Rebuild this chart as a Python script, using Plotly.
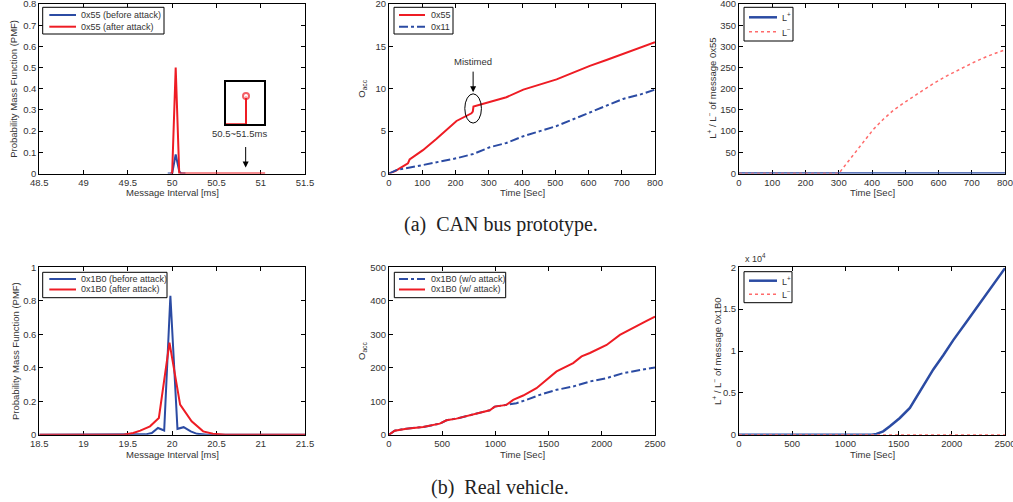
import plotly.graph_objects as go

W, H = 1013, 502

# ---------------- data ----------------
# (a) CAN bus prototype: PMF of message interval for 0x55
can_x_before = [49.95, 50.0, 50.04, 50.08, 50.1, 50.15]
can_pmf_before = [0, 0, 0.09, 0.01, 0, 0]
can_x_after = [49.98, 50.0, 50.04, 50.08, 50.1, 51.05]
can_pmf_after = [0, 0, 0.5, 0, 0, 0]
# inset (50.5~51.5 ms)
inset_x = [50.5, 51.03, 51.03]
inset_pmf = [0, 0, 0.0004]

# (a) O_acc over time
t_55 = [0, 20, 32, 57, 62, 102, 143, 153, 183, 203, 248, 252, 254, 303, 353, 404, 454, 504, 554, 604, 654, 704, 754, 800]
oacc_55 = [0, 0.3, 0.6, 1.2, 1.65, 2.75, 4.1, 4.45, 5.5, 6.2, 7.1, 7.3, 7.9, 8.45, 9.0, 9.9, 10.5, 11.1, 11.9, 12.7, 13.4, 14.1, 14.8, 15.5]
t_11 = [0, 22, 102, 203, 253, 303, 353, 404, 454, 504, 554, 604, 654, 704, 754, 800]
oacc_11 = [0, 0.4, 1.0, 1.8, 2.3, 3.1, 3.6, 4.4, 5.0, 5.6, 6.4, 7.2, 8.0, 8.8, 9.3, 9.9]

# (a) L+ / L- of 0x55
t_lp_a = [0, 800]
lplus_a = [0, 0]
t_lm_a = [0, 300, 323, 343, 373, 404, 434, 464, 504, 544, 584, 624, 665, 705, 745, 800]
lminus_a = [0, 0, 23, 43, 74, 104, 128, 149, 171, 192, 212, 230, 247, 262, 276, 292]

# (b) Real vehicle: PMF of message interval for 0x1B0
veh_x_before = [18.5, 19.6, 19.7, 19.77, 19.84, 19.91, 19.98, 20.06, 20.13, 20.21, 20.28, 20.4, 21.5]
veh_pmf_before = [0, 0, 0.002, 0.01, 0.04, 0.025, 0.83, 0.035, 0.045, 0.02, 0.005, 0, 0]
veh_x_after = [18.5, 19.45, 19.56, 19.64, 19.75, 19.85, 19.97, 20.09, 20.22, 20.35, 20.46, 20.6, 21.5]
veh_pmf_after = [0, 0, 0.01, 0.024, 0.05, 0.1, 0.55, 0.18, 0.08, 0.02, 0.006, 0, 0]

# (b) O_acc over time
t_wo = [0, 53, 163, 320, 477, 540, 634, 790, 947, 994, 1104, 1198, 1292, 1417, 1575, 1731, 1888, 2045, 2202, 2359, 2500]
oacc_wo = [0, 12, 18, 23, 33, 43, 48, 60, 73, 84, 89, 94, 104, 119, 134, 144, 159, 169, 184, 194, 201]
t_w = [0, 53, 163, 320, 477, 540, 634, 790, 947, 994, 1104, 1167, 1261, 1386, 1480, 1575, 1731, 1810, 1888, 2045, 2170, 2296, 2421, 2500]
oacc_w = [0, 12, 18, 23, 33, 43, 48, 60, 73, 84, 89, 104, 117, 139, 164, 189, 214, 234, 244, 268, 298, 320, 340, 353]

# (b) L+ / L- of 0x1B0 (values in units of 1e4)
t_lp_b = [0, 1250, 1292, 1355, 1418, 1512, 1606, 1700, 1826, 1920, 2014, 2139, 2265, 2390, 2500]
lplus_b = [0, 0, 0.01, 0.04, 0.1, 0.2, 0.32, 0.52, 0.78, 0.95, 1.13, 1.35, 1.57, 1.79, 1.99]
t_lm_b = [0, 2500]
lminus_b = [0, 0]

RED = "#ee1c24"
BLUE = "#2b4ba3"
PINK = "#ff6b6b"

# ---------------- layout geometry ----------------
def px_x(p):
    return p / W

def px_y(p):
    return (H - p) / H

cols = [(39.3, 305), (389, 655), (739, 1005)]
rows = [(4, 173.5), (267.3, 434.7)]

fig = go.Figure()

def add(x, y, k, name, color, width, dash="solid"):
    fig.add_trace(go.Scatter(
        x=x, y=y, mode="lines", name=name,
        line=dict(color=color, width=width, dash=dash),
        xaxis="x" + (str(k) if k > 1 else ""), yaxis="y" + (str(k) if k > 1 else ""),
        showlegend=False, hoverinfo="skip"))

add(can_x_before, can_pmf_before, 1, "0x55 (before attack)", BLUE, 2)
add(can_x_after, can_pmf_after, 1, "0x55 (after attack)", RED, 2)
add(t_55, oacc_55, 2, "0x55", RED, 2)
add(t_11, oacc_11, 2, "0x11", BLUE, 2, dash="dashdot")
add(t_lp_a, lplus_a, 3, "L+", BLUE, 2.5)
add(t_lm_a, lminus_a, 3, "L-", PINK, 1.5, dash="dot")
add(veh_x_before, veh_pmf_before, 4, "0x1B0 (before attack)", BLUE, 2)
add(veh_x_after, veh_pmf_after, 4, "0x1B0 (after attack)", RED, 2)
add(t_wo, oacc_wo, 5, "0x1B0 (w/o attack)", BLUE, 2, dash="dashdot")
add(t_w, oacc_w, 5, "0x1B0 (w/ attack)", RED, 2)
add(t_lp_b, lplus_b, 6, "L+", BLUE, 2.5)
add(t_lm_b, lminus_b, 6, "L-", PINK, 1.5, dash="dot")

# inset trace
fig.add_trace(go.Scatter(
    x=inset_x, y=inset_pmf, mode="lines+markers", showlegend=False, hoverinfo="skip",
    line=dict(color=RED, width=2),
    marker=dict(size=[0, 0, 6], color="white", line=dict(color=RED, width=2)),
    xaxis="x7", yaxis="y7"))

TICKFONT = dict(size=9.5, color="#333333", family="Liberation Sans")

def axis(dom, rng, dtick, anchor, tick0=None):
    d = dict(domain=dom, range=rng, dtick=dtick, anchor=anchor,
             showline=True, mirror="allticks", ticks="inside", ticklen=4,
             linecolor="black", tickcolor="black", linewidth=1,
             showgrid=False, zeroline=False, tickfont=TICKFONT,
             ticklabeloverflow="allow",
             layer="below traces", fixedrange=True, automargin=False)
    if tick0 is not None:
        d["tick0"] = tick0
    return d

specs = [
    (0, 0, [48.5, 51.5], 0.5, [0, 0.8], 0.1),
    (0, 1, [0, 800], 100, [0, 20], 5),
    (0, 2, [0, 800], 100, [0, 400], 50),
    (1, 0, [18.5, 21.5], 0.5, [0, 1], 0.2),
    (1, 1, [0, 2500], 500, [0, 500], 100),
    (1, 2, [0, 2500], 500, [0, 2], 0.5),
]

layout = dict(width=W, height=H, margin=dict(l=0, r=0, t=0, b=0), autosize=False,
              paper_bgcolor="white", plot_bgcolor="white", showlegend=False,
              font=dict(family="Liberation Sans", size=9.5, color="#333333"))

for i, (r, c, xr, xd, yr, yd) in enumerate(specs, start=1):
    xdom = [px_x(cols[c][0]), px_x(cols[c][1])]
    ydom = [px_y(rows[r][1]), px_y(rows[r][0])]
    sfx = str(i) if i > 1 else ""
    layout["xaxis" + sfx] = axis(xdom, xr, xd, "y" + sfx, tick0=xr[0])
    layout["yaxis" + sfx] = axis(ydom, yr, yd, "x" + sfx, tick0=yr[0])

layout["xaxis7"] = dict(domain=[px_x(225.7), px_x(264)], range=[50.5, 51.5], anchor="y7",
                        showline=True, mirror=True, linecolor="black", linewidth=2,
                        showticklabels=False, ticks="", showgrid=False, zeroline=False, fixedrange=True)
layout["yaxis7"] = dict(domain=[px_y(124.3), px_y(82)], range=[0, 0.0006], anchor="x7",
                        showline=True, mirror=True, linecolor="black", linewidth=2,
                        showticklabels=False, ticks="", showgrid=False, zeroline=False, fixedrange=True)

fig.update_layout(**layout)

ann = []
shapes = []
TF = dict(size=9.5, color="#333333", family="Liberation Sans")
LF = dict(size=9, color="#333333", family="Liberation Sans")

# ---- legends drawn as boxes with line samples and labels ----
legends = [
    ((42.7, 7.3, 164, 34), (49.3, 76), 79.3,
     [(15, "0x55 (before attack)", BLUE, 2, "solid"), (26.7, "0x55 (after attack)", RED, 2, "solid")]),
    ((394, 7.3, 453, 34), (399, 425), 429.3,
     [(15, "0x55", RED, 2, "solid"), (26.7, "0x11", BLUE, 2, "dashdot")]),
    ((744, 7.3, 793, 41), (749, 777), 780,
     [(17.3, "L<sup>+</sup>", BLUE, 2.5, "solid"), (31.7, "L<sup>−</sup>", PINK, 1.5, "dot")]),
    ((42.7, 272.3, 167, 297.7), (49.3, 76), 79.3,
     [(279, "0x1B0 (before attack)", BLUE, 2, "solid"), (289.5, "0x1B0 (after attack)", RED, 2, "solid")]),
    ((394.3, 272.3, 505.7, 297.7), (399, 425), 429.3,
     [(279, "0x1B0 (w/o attack)", BLUE, 2, "dashdot"), (289.5, "0x1B0 (w/ attack)", RED, 2, "solid")]),
    ((744, 271.7, 792, 302.7), (749, 777), 780,
     [(280.7, "L<sup>+</sup>", BLUE, 2.5, "solid"), (294.3, "L<sup>−</sup>", PINK, 1.5, "dot")]),
]
for (bx0, by0, bx1, by1), (sx0, sx1), tx, entries in legends:
    shapes.append(dict(type="rect", xref="paper", yref="paper",
                       x0=px_x(bx0), x1=px_x(bx1), y0=px_y(by1), y1=px_y(by0),
                       line=dict(color="black", width=1), fillcolor="white", layer="above"))
    for ey, label, color, lw, dash in entries:
        shapes.append(dict(type="line", xref="paper", yref="paper",
                           x0=px_x(sx0), x1=px_x(sx1), y0=px_y(ey), y1=px_y(ey),
                           line=dict(color=color, width=lw, dash=dash), layer="above"))
        ann.append(dict(text=label, x=px_x(tx), y=px_y(ey), xref="paper", yref="paper",
                        showarrow=False, font=LF, xanchor="left", yanchor="middle"))

# axis titles
xt = ["Message Interval [ms]", "Time [Sec]", "Time [Sec]"]
for r, ty in [(0, 192.7), (1, 454)]:
    for c in range(3):
        ann.append(dict(text=xt[c], x=px_x((cols[c][0] + cols[c][1]) / 2), y=px_y(ty),
                        xref="paper", yref="paper", showarrow=False, font=TF,
                        xanchor="center", yanchor="middle"))
yt = [
    ("Probability Mass Function (PMF)", 14, 0, 0),
    ("O<sub>acc</sub>", 362, 0, 1),
    ("L<sup>+</sup> / L<sup>−</sup> of message 0x55", 712, 0, 2),
    ("Probability Mass Function (PMF)", 15, 1, 0),
    ("O<sub>acc</sub>", 362, 1, 1),
    ("L<sup>+</sup> / L<sup>−</sup> of message 0x1B0", 717, 1, 2),
]
for text, xpx, r, c in yt:
    ann.append(dict(text=text, x=px_x(xpx), y=px_y((rows[r][0] + rows[r][1]) / 2),
                    xref="paper", yref="paper", showarrow=False, font=TF, textangle=-90,
                    xanchor="center", yanchor="middle"))

ann.append(dict(text="x 10<sup>4</sup>", x=px_x(743), y=px_y(258), xref="paper", yref="paper",
                showarrow=False, font=dict(size=9, color="#333333", family="Liberation Sans"),
                xanchor="left", yanchor="middle"))

ann.append(dict(text="50.5~51.5ms", x=50.76, y=0.189, xref="x", yref="y", showarrow=False,
                font=TF, xanchor="center", yanchor="middle"))
ann.append(dict(text="", x=50.83, y=0.028, ax=50.83, ay=0.132, xref="x", yref="y",
                axref="x", ayref="y", showarrow=True, arrowhead=2, arrowsize=1.2,
                arrowwidth=1, arrowcolor="black"))
ann.append(dict(text="Mistimed", x=253, y=13.2, xref="x2", yref="y2", showarrow=False,
                font=TF, xanchor="center", yanchor="middle"))
ann.append(dict(text="", x=253, y=9.6, ax=253, ay=12.2, xref="x2", yref="y2",
                axref="x2", ayref="y2", showarrow=True, arrowhead=2, arrowsize=1.2,
                arrowwidth=1, arrowcolor="black"))

CF = dict(size=20, color="#222222", family="Liberation Serif")
ann.append(dict(text="(a)  CAN bus prototype.", x=px_x(501), y=px_y(224), xref="paper", yref="paper",
                showarrow=False, font=CF, xanchor="center", yanchor="middle"))
ann.append(dict(text="(b)  Real vehicle.", x=px_x(500), y=px_y(487), xref="paper", yref="paper",
                showarrow=False, font=CF, xanchor="center", yanchor="middle"))

shapes.append(dict(type="circle", xref="x2", yref="y2", x0=228, x1=278, y0=5.95, y1=9.4,
                   line=dict(color="black", width=1)))

fig.update_layout(annotations=ann, shapes=shapes)

fig.write_html("out.html", config={"displayModeBar": False},
               post_script="document.body.style.margin='0';document.body.style.overflow='hidden';")
